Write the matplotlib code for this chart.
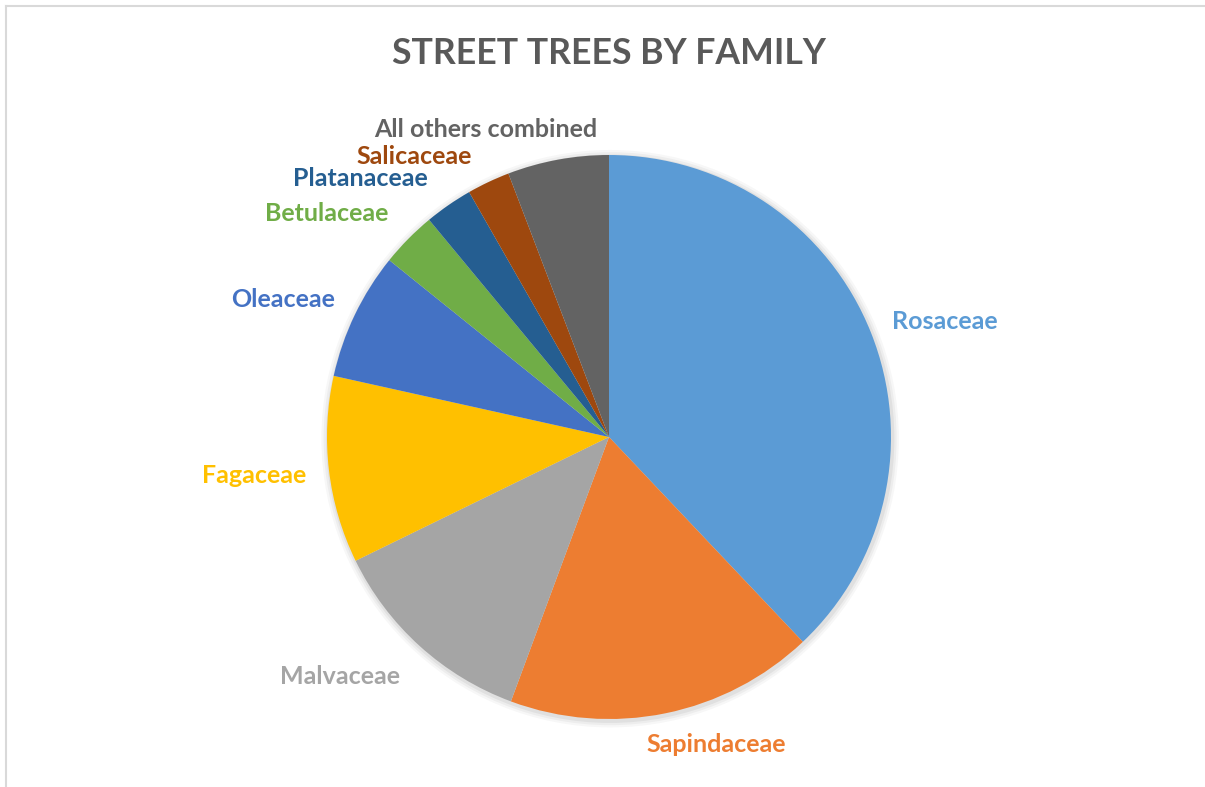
import matplotlib.pyplot as plt
from matplotlib.lines import Line2D

families = ["Rosaceae", "Sapindaceae", "Malvaceae", "Fagaceae", "Oleaceae",
            "Betulaceae", "Platanaceae", "Salicaceae", "All others combined"]
shares = [37.9, 17.7, 12.1, 10.7, 7.3, 3.2, 2.75, 2.45, 5.8]
colors = ["#5B9BD5", "#ED7D31", "#A5A5A5", "#FFC000", "#4472C4",
          "#70AD47", "#255E91", "#9E480E", "#636363"]

# label centres in pie-radius units (Excel "outside end" placement)
label_pos = [(1.191, 0.408), (0.379, -1.092), (-0.954, -0.851), (-1.259, -0.135),
             (-1.156, 0.489), (-1.0, 0.794), (-0.883, 0.915), (-0.691, 0.996),
             (-0.436, 1.089)]

plt.rcParams['font.family'] = ['Lato', 'DejaVu Sans']

W, H = 1205, 787
cx, cy, R = 609, 437, 282
fig = plt.figure(figsize=(W / 100, H / 100), dpi=100)
ax = fig.add_axes([0, 0, 1, 1])

# soft shadow under the pie
for i, a in enumerate([0.05, 0.04, 0.03]):
    sh = plt.Circle((0.004, -0.006), 1.0 + 0.008 * (i + 1), color='black',
                    alpha=a, lw=0, zorder=0)
    ax.add_patch(sh)

ax.pie(shares, colors=colors, startangle=90, counterclock=False, radius=1.0,
       wedgeprops=dict(linewidth=0), frame=True)
ax.set_xlim(-cx / R, (W - cx) / R)
ax.set_ylim(-(H - cy) / R, cy / R)
ax.set_aspect('equal')
ax.axis('off')

for name, c, (x, y) in zip(families, colors, label_pos):
    ax.text(x, y, name, color=c, fontsize=18, fontweight='bold',
            ha='center', va='center')

ax.text(0, (cy - 53) / R, "STREET TREES BY FAMILY", color="#595959",
        fontsize=25.7, fontweight='bold', ha='center', va='center')

# chart frame (only top and left visible in the crop)
fig.add_artist(Line2D([6 / W, 6 / W], [0, 1 - 6 / H], transform=fig.transFigure,
                      color="#D9D9D9", lw=1.5))
fig.add_artist(Line2D([6 / W, 1], [1 - 6 / H, 1 - 6 / H], transform=fig.transFigure,
                      color="#D9D9D9", lw=1.5))

fig.savefig("out.png", dpi=100, facecolor='white')
